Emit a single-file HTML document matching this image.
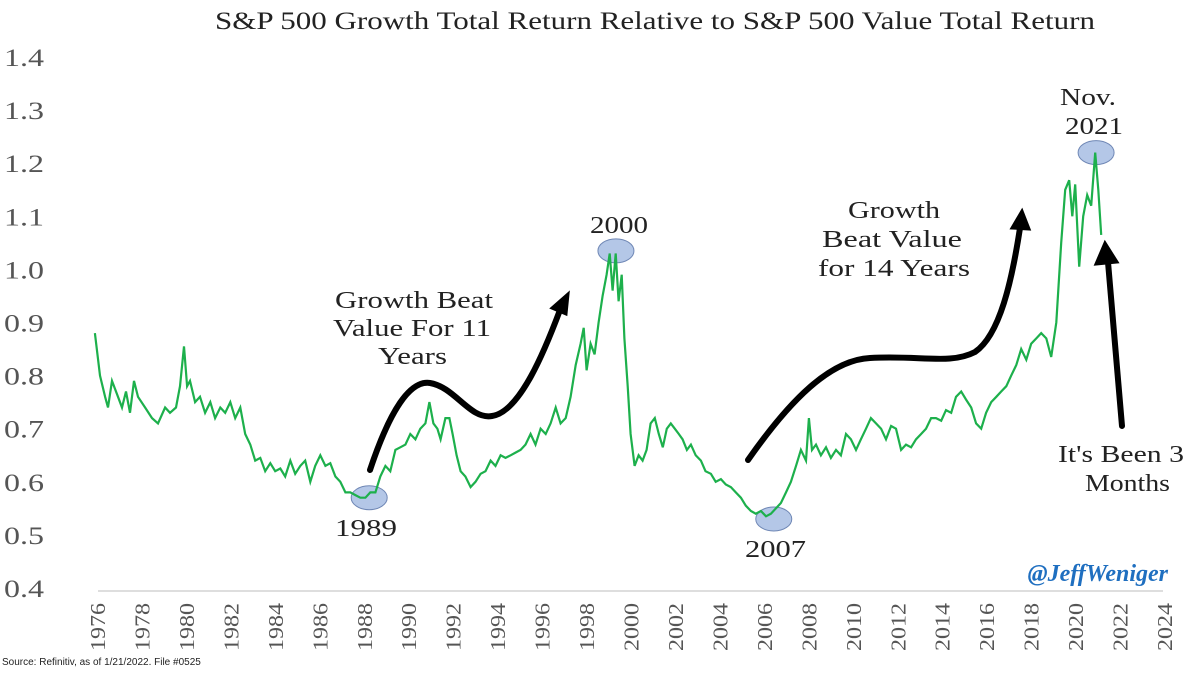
<!DOCTYPE html>
<html><head><meta charset="utf-8"><style>
body{margin:0;background:#fff;}
svg{display:block;font-family:"Liberation Serif","DejaVu Serif",serif;}
</style></head><body>
<svg id="chart" width="1200" height="676" viewBox="0 0 1200 676">
<text x="215" y="29" font-size="25" fill="#222" textLength="880" lengthAdjust="spacingAndGlyphs">S&amp;P 500 Growth Total Return Relative to S&amp;P 500 Value Total Return</text>
<g id="yaxis"></g>
<g id="xaxis"></g>
<line x1="98" y1="591" x2="1163" y2="591" stroke="#d4d4d4" stroke-width="1.5"/>
<g id="circles"></g>
<path id="line" fill="none" stroke="#1db04c" stroke-width="2.2"/>
<g font-size="24" fill="#222" lengthAdjust="spacingAndGlyphs">
<text x="590" y="233" textLength="58" lengthAdjust="spacingAndGlyphs">2000</text>
<text x="335" y="536" textLength="62" lengthAdjust="spacingAndGlyphs">1989</text>
<text x="745" y="557" textLength="61" lengthAdjust="spacingAndGlyphs">2007</text>
<text x="1060" y="105" textLength="56" lengthAdjust="spacingAndGlyphs">Nov.</text>
<text x="1065" y="134" textLength="58" lengthAdjust="spacingAndGlyphs">2021</text>
<text x="335" y="308" textLength="158" lengthAdjust="spacingAndGlyphs">Growth Beat</text>
<text x="333" y="336" textLength="158" lengthAdjust="spacingAndGlyphs">Value For 11</text>
<text x="378" y="364" textLength="69" lengthAdjust="spacingAndGlyphs">Years</text>
<text x="848" y="218" textLength="92" lengthAdjust="spacingAndGlyphs">Growth</text>
<text x="822" y="247" textLength="140" lengthAdjust="spacingAndGlyphs">Beat Value</text>
<text x="818" y="276" textLength="152" lengthAdjust="spacingAndGlyphs">for 14 Years</text>
<text x="1058" y="462" textLength="126" lengthAdjust="spacingAndGlyphs">It's Been 3</text>
<text x="1085" y="491" textLength="85" lengthAdjust="spacingAndGlyphs">Months</text>
</g>
<g fill="none" stroke="#000" stroke-width="6" stroke-linecap="round">
<path d="M370,470 C390,410 410,380 430,383 C455,387 470,420 492,416 C520,412 545,350 560,310"/>
<polygon points="568,294 552,308 566,314" fill="#000" stroke="#000" stroke-width="3"/>
<path d="M748,460 C790,400 830,360 870,358 C920,355 950,365 975,352 C1000,335 1012,280 1020,228"/>
<polygon points="1022,211 1012,228 1029,229" fill="#000" stroke="#000" stroke-width="3"/>
<path d="M1122,426 L1108,262"/>
<polygon points="1105,243 1096,264 1117,262" fill="#000" stroke="#000" stroke-width="3"/>
</g>
<text x="1168" y="581" text-anchor="end" font-size="24" font-weight="bold" font-style="italic" fill="#1f6fc0">@JeffWeniger</text>
<text x="2" y="665" font-family="Liberation Sans, sans-serif" font-size="10" fill="#222">Source: Refinitiv, as of 1/21/2022. File #0525</text>
</svg>
<script>
const yTicks=[0.4,0.5,0.6,0.7,0.8,0.9,1.0,1.1,1.2,1.3,1.4];
const yTickLabels=["0.4","0.5","0.6","0.7","0.8","0.9","1.0","1.1","1.2","1.3","1.4"];
const xTicks=[1976,1978,1980,1982,1984,1986,1988,1990,1992,1994,1996,1998,2000,2002,2004,2006,2008,2010,2012,2014,2016,2018,2020,2022,2024];
const years=[1975.86,1976.09,1976.32,1976.45,1976.63,1976.90,1977.08,1977.26,1977.44,1977.62,1977.80,1978.12,1978.43,1978.70,1979.02,1979.24,1979.51,1979.69,1979.87,1980.01,1980.14,1980.37,1980.59,1980.82,1981.05,1981.27,1981.50,1981.72,1981.95,1982.17,1982.40,1982.62,1982.85,1983.07,1983.30,1983.52,1983.75,1983.97,1984.20,1984.42,1984.65,1984.87,1985.10,1985.32,1985.55,1985.77,1986.00,1986.23,1986.45,1986.68,1986.90,1987.13,1987.35,1987.58,1987.80,1988.03,1988.25,1988.48,1988.70,1988.93,1989.15,1989.38,1989.60,1989.83,1990.05,1990.28,1990.50,1990.73,1990.91,1991.09,1991.27,1991.41,1991.63,1991.81,1991.95,1992.13,1992.31,1992.53,1992.76,1992.98,1993.21,1993.43,1993.66,1993.88,1994.11,1994.33,1994.56,1994.78,1995.01,1995.23,1995.46,1995.68,1995.91,1996.14,1996.36,1996.59,1996.81,1997.04,1997.26,1997.49,1997.71,1997.85,1997.98,1998.16,1998.34,1998.52,1998.70,1998.88,1999.02,1999.15,1999.29,1999.42,1999.56,1999.68,1999.83,1999.96,2000.14,2000.32,2000.50,2000.68,2000.86,2001.05,2001.23,2001.41,2001.59,2001.77,2001.95,2002.13,2002.30,2002.49,2002.67,2002.89,2003.12,2003.33,2003.57,2003.79,2004.02,2004.24,2004.47,2004.69,2004.92,2005.14,2005.37,2005.59,2005.82,2006.05,2006.27,2006.50,2006.72,2006.95,2007.17,2007.40,2007.62,2007.85,2007.98,2008.12,2008.30,2008.52,2008.75,2008.97,2009.20,2009.42,2009.65,2009.87,2010.10,2010.32,2010.55,2010.77,2011.00,2011.23,2011.45,2011.68,2011.90,2012.13,2012.35,2012.58,2012.80,2013.03,2013.25,2013.48,2013.70,2013.93,2014.15,2014.38,2014.60,2014.83,2015.05,2015.28,2015.50,2015.73,2015.95,2016.18,2016.41,2016.63,2016.86,2017.08,2017.31,2017.53,2017.76,2017.98,2018.21,2018.43,2018.66,2018.88,2019.11,2019.33,2019.51,2019.69,2019.83,2019.96,2020.14,2020.32,2020.50,2020.68,2020.86,2021.00,2021.13];
const ratio=[0.88,0.80,0.76,0.74,0.79,0.76,0.74,0.77,0.73,0.79,0.76,0.74,0.72,0.71,0.74,0.73,0.74,0.78,0.855,0.78,0.79,0.75,0.76,0.73,0.75,0.72,0.74,0.73,0.75,0.72,0.74,0.69,0.67,0.64,0.645,0.62,0.635,0.62,0.625,0.61,0.64,0.615,0.63,0.64,0.60,0.63,0.65,0.63,0.635,0.61,0.60,0.58,0.58,0.575,0.57,0.57,0.58,0.58,0.61,0.63,0.62,0.66,0.665,0.67,0.69,0.68,0.70,0.71,0.75,0.71,0.70,0.68,0.72,0.72,0.69,0.65,0.62,0.61,0.59,0.60,0.615,0.62,0.64,0.63,0.65,0.645,0.65,0.655,0.66,0.67,0.69,0.67,0.70,0.69,0.71,0.74,0.71,0.72,0.76,0.82,0.86,0.89,0.81,0.86,0.84,0.90,0.95,0.99,1.03,0.96,1.03,0.94,0.99,0.87,0.78,0.69,0.63,0.65,0.64,0.66,0.71,0.72,0.69,0.665,0.70,0.71,0.70,0.69,0.68,0.66,0.67,0.65,0.64,0.62,0.615,0.60,0.605,0.595,0.59,0.58,0.57,0.555,0.545,0.54,0.545,0.535,0.54,0.55,0.56,0.58,0.60,0.63,0.66,0.64,0.72,0.66,0.67,0.65,0.665,0.645,0.66,0.65,0.69,0.68,0.66,0.68,0.70,0.72,0.71,0.70,0.68,0.705,0.70,0.66,0.67,0.665,0.68,0.69,0.70,0.72,0.72,0.715,0.735,0.73,0.76,0.77,0.755,0.74,0.71,0.70,0.73,0.75,0.76,0.77,0.78,0.80,0.82,0.85,0.83,0.86,0.87,0.88,0.87,0.835,0.90,1.05,1.15,1.168,1.10,1.16,1.005,1.10,1.14,1.12,1.22,1.15,1.065];
const highlightYears=[1988.2,1999.3,2006.4,2020.9];
const highlightValues=[0.57,1.035,0.53,1.22];

const NS="http://www.w3.org/2000/svg";
const X0=98,X1=1165,Y0=588,Y1=57;
function xs(y){return X0+(y-1976)/(2024-1976)*(X1-X0);}
function ys(v){return Y0-(v-0.4)/(1.4-0.4)*(Y0-Y1);}
function mk(tag,attrs,parent){const e=document.createElementNS(NS,tag);for(const k in attrs)e.setAttribute(k,attrs[k]);parent.appendChild(e);return e;}

const ya=document.getElementById('yaxis');
yTicks.forEach((t,i)=>{
  const e=mk('text',{x:4,y:ys(t)+9,'font-size':'25',fill:'#555',textLength:'40',lengthAdjust:'spacingAndGlyphs'},ya);
  
  
  e.textContent=yTickLabels[i];
});
const xa=document.getElementById('xaxis');
xTicks.forEach(t=>{
  const x=xs(t);
  const e=mk('text',{x:0,y:0,'font-size':'21',fill:'#555','text-anchor':'middle',textLength:'48',lengthAdjust:'spacingAndGlyphs',transform:`translate(${x+7},627) rotate(-90)`},xa);
  
  
  e.textContent=t;
});
const cg=document.getElementById('circles');
highlightYears.forEach((yr,i)=>{
  const c=mk('ellipse',{cx:xs(yr),cy:ys(highlightValues[i]),rx:18,ry:12,fill:'#b4c7e7',stroke:'#6f87b5','stroke-width':1},cg);
  
  
});
let d='';
years.forEach((yr,i)=>{d+=(i?'L':'M')+xs(yr).toFixed(1)+','+ys(ratio[i]).toFixed(1);});
document.getElementById('line').setAttribute('d',d);
</script>
</body></html>
